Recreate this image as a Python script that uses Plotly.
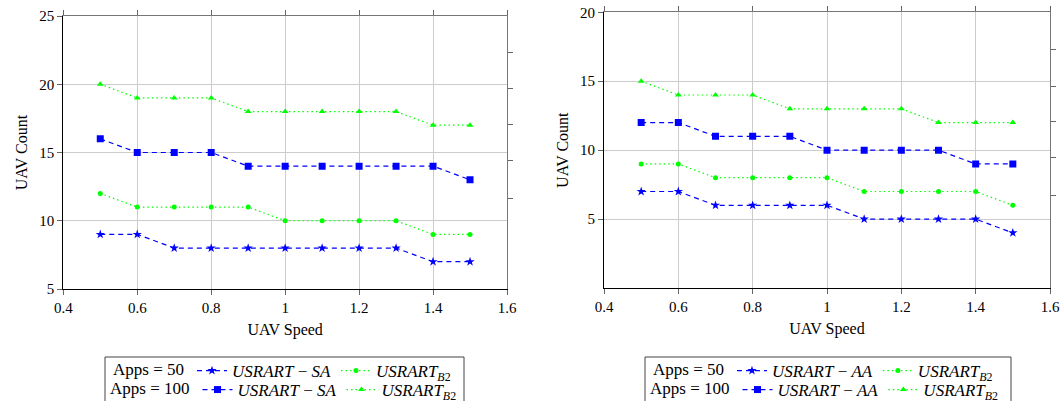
import plotly.graph_objects as go

# ---------------- data ----------------
speed = [0.5, 0.6, 0.7, 0.8, 0.9, 1.0, 1.1, 1.2, 1.3, 1.4, 1.5]

# left chart (SA)
sa_50 = [9, 9, 8, 8, 8, 8, 8, 8, 8, 7, 7]
sa_b2_50 = [12, 11, 11, 11, 11, 10, 10, 10, 10, 9, 9]
sa_100 = [16, 15, 15, 15, 14, 14, 14, 14, 14, 14, 13]
sa_b2_100 = [20, 19, 19, 19, 18, 18, 18, 18, 18, 17, 17]

# right chart (AA)
aa_50 = [7, 7, 6, 6, 6, 6, 5, 5, 5, 5, 4]
aa_b2_50 = [9, 9, 8, 8, 8, 8, 7, 7, 7, 7, 6]
aa_100 = [12, 12, 11, 11, 11, 10, 10, 10, 10, 9, 9]
aa_b2_100 = [15, 14, 14, 14, 13, 13, 13, 13, 12, 12, 12]

x_ticks = [0.4, 0.6, 0.8, 1.0, 1.2, 1.4, 1.6]
x_tick_text = ["0.4", "0.6", "0.8", "1", "1.2", "1.4", "1.6"]
left_y_ticks = [5, 10, 15, 20, 25]
right_y_ticks = [5, 10, 15, 20]
left_side_ticks = [22.3, 19.7, 17.07, 14.4, 11.65]
right_side_ticks = [17.27, 14.65, 12.05, 9.44, 6.69]

name_sa = "<i>USRART</i> − <i>SA</i>"
name_aa = "<i>USRART</i> − <i>AA</i>"
name_b2 = "<i>USRART</i><sub><i>B</i>2</sub>"

FONT = "Liberation Serif"
BLUE = "#0000ff"
GREEN = "#00ff00"
W, H = 1064, 401

fig = go.Figure()


def add_series(x, y, name, color, dash, symbol, msize, xa, ya, legend):
    fig.add_trace(go.Scatter(
        x=x, y=y, name=name, mode="lines+markers",
        line=dict(color=color, width=1.2, dash=dash),
        marker=dict(color=color, symbol=symbol, size=msize, line=dict(width=0)),
        xaxis=xa, yaxis=ya, legend=legend,
    ))


DASH = "5px,4px"
DOT = "1.5px,3px"

add_series(speed, sa_50, name_sa, BLUE, DASH, "star", 7, "x", "y", "legend")
add_series(speed, sa_b2_50, name_b2, GREEN, DOT, "circle", 5, "x", "y", "legend")
add_series(speed, sa_100, name_sa, BLUE, DASH, "square", 7, "x", "y", "legend2")
add_series(speed, sa_b2_100, name_b2, GREEN, DOT, "triangle-up", 6, "x", "y", "legend2")

add_series(speed, aa_50, name_aa, BLUE, DASH, "star", 7, "x2", "y2", "legend3")
add_series(speed, aa_b2_50, name_b2, GREEN, DOT, "circle", 5, "x2", "y2", "legend3")
add_series(speed, aa_100, name_aa, BLUE, DASH, "square", 7, "x2", "y2", "legend4")
add_series(speed, aa_b2_100, name_b2, GREEN, DOT, "triangle-up", 6, "x2", "y2", "legend4")

# empty helper traces so that the decorative top / right axes get drawn
for xa, ya in [("x3", "y"), ("x", "y3"), ("x4", "y2"), ("x2", "y4")]:
    fig.add_trace(go.Scatter(x=[None], y=[None], xaxis=xa, yaxis=ya,
                             showlegend=False, hoverinfo="skip"))

tickfont = dict(family=FONT, size=15, color="black")
titlefont = dict(family=FONT, size=16, color="black")
common_tick = dict(ticks="outside", ticklen=5, tickwidth=1, tickcolor="#666")


def xaxis_main(domain, anchor):
    return dict(domain=domain, anchor=anchor, range=[0.4, 1.6],
                tickvals=x_ticks, ticktext=x_tick_text, tickfont=tickfont,
                showgrid=True, gridcolor="#cccccc", gridwidth=1, zeroline=False,
                showline=True, linecolor="black", linewidth=1,
                title=dict(text="UAV Speed", font=titlefont, standoff=8),
                automargin=False, **common_tick)


def xaxis_top(over, anchor):
    return dict(overlaying=over, anchor=anchor, side="top", range=[0.4, 1.6],
                tickvals=x_ticks, showticklabels=False, showgrid=False,
                zeroline=False, showline=True, linecolor="#777", linewidth=1,
                automargin=False, **common_tick)


def yaxis_main(domain, anchor, rng, ticks):
    return dict(domain=domain, anchor=anchor, range=rng, tickvals=ticks,
                tickfont=tickfont, showgrid=True, gridcolor="#cccccc", gridwidth=1,
                zeroline=False, showline=True, linecolor="black", linewidth=1,
                title=dict(text="UAV Count", font=titlefont, standoff=7),
                automargin=False, **common_tick)


def yaxis_right(over, anchor, rng, ticks):
    return dict(overlaying=over, anchor=anchor, side="right", range=rng,
                tickvals=ticks, showticklabels=False, showgrid=False,
                zeroline=False, showline=True, linecolor="#777", linewidth=1,
                automargin=False, **common_tick)


left_xdom = [63.3 / W, 507 / W]
right_xdom = [604 / W, 1050 / W]
left_ydom = [1 - 289 / H, 1 - 16 / H]
right_ydom = [1 - 288 / H, 1 - 12.3 / H]


def legend_cfg(title, x, y):
    return dict(orientation="h", xref="container", yref="container",
                x=x, xanchor="left", y=y, yanchor="middle",
                title=dict(text=title, side="left",
                           font=dict(family=FONT, size=17, color="black")),
                font=dict(family=FONT, size=17, color="black"),
                bgcolor="rgba(0,0,0,0)", borderwidth=0, itemwidth=30,
                tracegroupgap=0, itemclick=False, itemdoubleclick=False)


ROW1 = 1 - 371 / H
ROW2 = 1 - 390 / H

fig.update_layout(
    width=W, height=H,
    margin=dict(l=0, r=0, t=0, b=0, autoexpand=False),
    paper_bgcolor="white", plot_bgcolor="white",
    font=dict(family=FONT, size=14, color="black"),
    xaxis=xaxis_main(left_xdom, "y"),
    yaxis=yaxis_main(left_ydom, "x", [5, 25], left_y_ticks),
    xaxis2=xaxis_main(right_xdom, "y2"),
    yaxis2=yaxis_main(right_ydom, "x2", [0, 20], right_y_ticks),
    xaxis3=xaxis_top("x", "y"),
    yaxis3=yaxis_right("y", "x", [5, 25], left_side_ticks),
    xaxis4=xaxis_top("x2", "y2"),
    yaxis4=yaxis_right("y2", "x2", [0, 20], right_side_ticks),
    legend=legend_cfg("Apps = 50", 111 / W, ROW1),
    legend2=legend_cfg("Apps = 100", 108 / W, ROW2),
    legend3=legend_cfg("Apps = 50", 651 / W, ROW1),
    legend4=legend_cfg("Apps = 100", 648 / W, ROW2),
    shapes=[
        dict(type="rect", xref="paper", yref="paper",
             x0=105 / W, x1=464 / W, y0=-0.05, y1=1 - 357 / H,
             line=dict(color="#444", width=1), fillcolor="rgba(0,0,0,0)"),
        dict(type="rect", xref="paper", yref="paper",
             x0=645 / W, x1=1011 / W, y0=-0.05, y1=1 - 357 / H,
             line=dict(color="#444", width=1), fillcolor="rgba(0,0,0,0)"),
    ],
    showlegend=True,
)

fig.write_html("out.html")
